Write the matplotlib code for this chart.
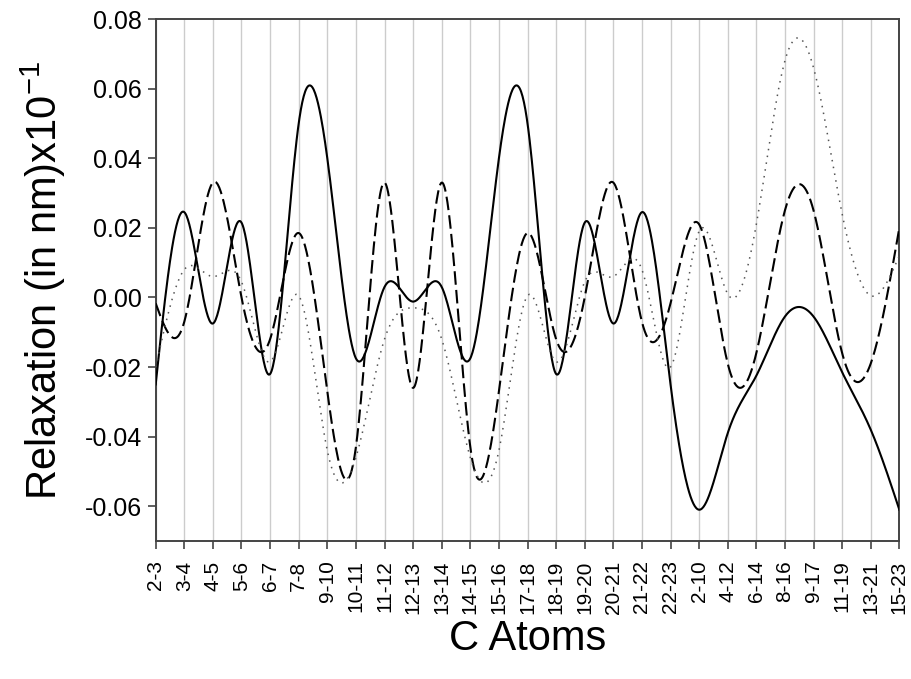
import numpy as np
import matplotlib
matplotlib.use("Agg")
import matplotlib.pyplot as plt

categories = ['2-3', '3-4', '4-5', '5-6', '6-7', '7-8', '9-10', '10-11', '11-12',
              '12-13', '13-14', '14-15', '15-16', '17-18', '18-19', '19-20', '20-21',
              '21-22', '22-23', '2-10', '4-12', '6-14', '8-16', '9-17', '11-19',
              '13-21', '15-23']

solid = [-0.025, 0.0245, -0.0075, 0.0215, -0.022, 0.050, 0.040, -0.0175, 0.003,
         -0.0012, 0.003, -0.0175, 0.040, 0.050, -0.022, 0.0215, -0.0075, 0.0245,
         -0.025, -0.061, -0.039, -0.0225, -0.0055, -0.0055, -0.0215, -0.038, -0.061]

dashed = [-0.0017, -0.007, 0.033, 0.0, -0.012, 0.0185, -0.027, -0.043, 0.033,
          -0.026, 0.033, -0.043, -0.027, 0.0185, -0.012, 0.0, 0.033, -0.007,
          -0.0017, 0.021, -0.019, -0.016, 0.025, 0.025, -0.016, -0.019, 0.020]

dotted = [-0.020, 0.0080, 0.006, 0.0045, -0.0185, 0.0005, -0.044, -0.046, -0.012,
          -0.003, -0.012, -0.046, -0.044, 0.0005, -0.0185, 0.0045, 0.006, 0.0080,
          -0.020, 0.019, 0.001, 0.021, 0.068, 0.066, 0.024, 0.0005, 0.012]


def natural_spline(y, n_per=40):
    y = np.asarray(y, dtype=float)
    n = len(y)
    A = np.zeros((n, n))
    b = np.zeros(n)
    A[0, 0] = 1.0
    A[-1, -1] = 1.0
    for i in range(1, n - 1):
        A[i, i - 1] = 1.0
        A[i, i] = 4.0
        A[i, i + 1] = 1.0
        b[i] = 6.0 * (y[i + 1] - 2 * y[i] + y[i - 1])
    M = np.linalg.solve(A, b)
    xs = np.linspace(0, n - 1, (n - 1) * n_per + 1)
    idx = np.minimum(np.floor(xs).astype(int), n - 2)
    t = xs - idx
    y0, y1 = y[idx], y[idx + 1]
    m0, m1 = M[idx], M[idx + 1]
    ys = ((1 - t) * y0 + t * y1
          + ((1 - t) ** 3 - (1 - t)) * m0 / 6.0
          + (t ** 3 - t) * m1 / 6.0)
    return xs, ys


plt.rcParams['font.family'] = ['Liberation Sans', 'DejaVu Sans']

fig = plt.figure(figsize=(9.11, 6.79), dpi=100)
ax = fig.add_axes([0.1709, 0.2032, 0.8163, 0.7688])

x = np.arange(len(categories))
for i in x:
    ax.axvline(i, color='#cccccc', lw=1.0, zorder=0)

xs, ys = natural_spline(solid)
ax.plot(xs, ys, color='black', lw=1.5, zorder=3)
xs, ys = natural_spline(dashed)
ax.plot(xs, ys, color='black', lw=1.5, linestyle=(0, (6.5, 2.5)), zorder=3)
xs, ys = natural_spline(dotted)
ax.plot(xs, ys, color='#555555', lw=1.1, linestyle=(0, (1, 3.5)), zorder=3)

ax.set_xlim(0, len(categories) - 1)
ax.set_ylim(-0.07, 0.08)
ax.set_xticks(x)
ax.set_xticklabels(categories, rotation=90, fontsize=15)
yt = np.arange(-0.06, 0.081, 0.02)
ax.set_yticks(yt)
ax.set_yticklabels(['%.2f' % v for v in yt], fontsize=18)
ax.tick_params(axis='x', length=6, width=1.2, color='#444444', pad=8)
ax.tick_params(axis='y', length=6, width=1.2, color='#444444', pad=4)
for s in ax.spines.values():
    s.set_color('#444444')
    s.set_linewidth(1.4)

ax.set_xlabel('C Atoms', fontsize=30, labelpad=4)
ax.set_ylabel(r'Relaxation (in nm)x10$^{\mathregular{-1}}$', fontsize=30, labelpad=12)

fig.savefig('out.png', dpi=100)
